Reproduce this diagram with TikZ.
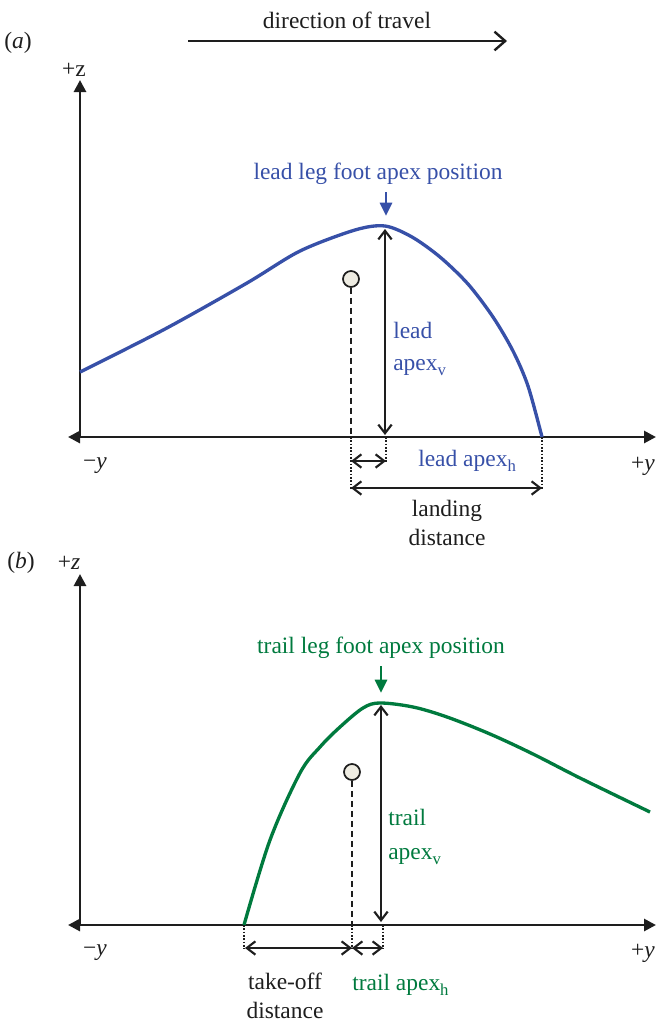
\documentclass[tikz,border=0pt]{standalone}
\usepackage{fontspec}
\setmainfont{Liberation Serif}
\usetikzlibrary{arrows.meta}
\definecolor{leadblue}{RGB}{55,80,168}
\definecolor{trailgreen}{RGB}{0,122,62}
\definecolor{bodyfill}{RGB}{238,236,226}
\definecolor{ink}{RGB}{30,30,30}
\newcommand{\subt}[1]{\raisebox{-0.45ex}{\fontsize{12.5}{12.5}\selectfont #1}}
\tikzset{
  axtip/.tip={Triangle[length=9pt,width=9pt]},
  barbtip/.tip={Straight Barb[length=6.5pt,width=10pt]}
}
\begin{document}
\begin{tikzpicture}[x=0.75pt,y=-0.75pt,
  lbl/.style={font=\fontsize{17.6}{21.5}\selectfont, inner sep=0pt, text=ink},
  axisline/.style={line width=2.1pt, draw=ink},
  dimarrow/.style={line width=1.6pt, draw=ink, barbtip-barbtip},
  travelarrow/.style={line width=1.8pt, draw=ink, -{Straight Barb[length=8pt,width=14pt]}},
  markarrow/.style={line width=2.2pt, -{Triangle[length=10pt,width=9pt]}},
  leadcurve/.style={line width=2.5pt, draw=leadblue},
  trailcurve/.style={line width=2.5pt, draw=trailgreen},
  body/.style={circle, draw=ink, fill=bodyfill, line width=1.3pt, minimum size=12pt, inner sep=0pt},
  plumb/.style={line width=1.2pt, draw=ink, dash pattern=on 4.5pt off 3pt},
  guide/.style={line width=1.2pt, draw=ink, dash pattern=on 1.2pt off 1.3pt},
  twoline/.style={lbl, align=left, anchor=west, font=\fontsize{17.6}{24}\selectfont}
]
\useasboundingbox (0,0) rectangle (656,1022);

% ---------- panel (a) ----------
\node[lbl] (pa) at (18,43) {(\textit{a})};
\node[lbl] (travel) at (347,20) {direction of travel};
\coordinate (travelL) at (188,41);
\coordinate (travelR) at (507,41);
\draw[travelarrow] (travelL) -- (travelR);

\coordinate (aO) at (80,437);
\coordinate (aXL) at (68,437);
\coordinate (aXR) at (656,437);
\coordinate (aZT) at (80,80);
\draw[axisline, axtip-axtip] (aXL) -- (aXR);
\draw[axisline, -axtip] (aO) -- (aZT);
\node[lbl] (aZ) at (74,70) {+z};
\node[lbl] (aYm) at (95,466) {−\textit{y}};
\node[lbl] (aYp) at (643,466) {+\textit{y}};

\draw[leadcurve] plot[smooth, tension=0.5] coordinates {(80,372) (165,329) (247,283) (300,251) (355,230) (385,226) (412,237) (440,257) (468,284) (493,317) (513,351) (528,386) (542,437)};

\coordinate (aApexTop) at (385,229);
\coordinate (aApexBase) at (385,435);
\coordinate (aMarkTop) at (386,192);
\coordinate (aMarkTip) at (386,216);
\draw[markarrow, draw=leadblue, fill=leadblue] (aMarkTop) -- (aMarkTip);
\node[lbl, text=leadblue] (aTitle) at (378,174) {lead leg foot apex position};
\draw[dimarrow] (aApexTop) -- (aApexBase);
\node[twoline, text=leadblue] (aApexV) at (393,349) {lead\\apex\subt{v}};

\node[body] (aBody) at (351,279) {};
\coordinate (aBodyFoot) at (351,437);
\coordinate (aBodyLow) at (351,490);
\draw[plumb] (aBody.south) -- (aBodyFoot);
\draw[guide] (aBodyFoot) -- (aBodyLow);
\coordinate (aApexFoot) at (386,437);
\coordinate (aApexLow) at (386,463);
\draw[guide] (aApexFoot) -- (aApexLow);
\coordinate (aLandFoot) at (542,437);
\coordinate (aLandLow) at (542,490);
\draw[guide] (aLandFoot) -- (aLandLow);

\coordinate (aHL) at (351,461);
\coordinate (aHR) at (386,461);
\draw[dimarrow] (aHL) -- (aHR);
\coordinate (aDL) at (351,488);
\coordinate (aDR) at (542,488);
\draw[dimarrow] (aDL) -- (aDR);
\node[lbl, text=leadblue, anchor=west] (aApexH) at (418,461) {lead apex\subt{h}};
\node[lbl, align=center] (aLand) at (447,523) {landing\\distance};

% ---------- panel (b) ----------
\node[lbl] (pb) at (21,563) {(\textit{b})};
\node[lbl] (bZ) at (69,563) {+\textit{z}};

\coordinate (bO) at (80,925);
\coordinate (bXL) at (68,925);
\coordinate (bXR) at (656,925);
\coordinate (bZT) at (80,574);
\draw[axisline, axtip-axtip] (bXL) -- (bXR);
\draw[axisline, -axtip] (bO) -- (bZT);
\node[lbl] (bYm) at (95,953) {−\textit{y}};
\node[lbl] (bYp) at (643,953) {+\textit{y}};

\draw[trailcurve] plot[smooth, tension=0.55] coordinates {(244,925) (270,840) (300,773) (320,747) (340,727) (363,708) (380,703) (413,707) (447,717) (490,734) (533,754) (580,778) (650,812)};

\coordinate (bApexTop) at (381,705);
\coordinate (bApexBase) at (381,922);
\coordinate (bMarkTop) at (381,666);
\coordinate (bMarkTip) at (381,693);
\draw[markarrow, draw=trailgreen, fill=trailgreen] (bMarkTop) -- (bMarkTip);
\node[lbl, text=trailgreen] (bTitle) at (381,648) {trail leg foot apex position};
\draw[dimarrow] (bApexTop) -- (bApexBase);
\node[twoline, text=trailgreen, font=\fontsize{17.6}{26}\selectfont] (bApexV) at (388,837) {trail\\apex\subt{v}};

\node[body] (bBody) at (352,772) {};
\coordinate (bBodyFoot) at (352,925);
\coordinate (bBodyLow) at (352,949);
\draw[plumb] (bBody.south) -- (bBodyFoot);
\draw[guide] (bBodyFoot) -- (bBodyLow);
\coordinate (bApexFoot) at (383,925);
\coordinate (bApexLow) at (383,949);
\draw[guide] (bApexFoot) -- (bApexLow);
\coordinate (bToFoot) at (244,925);
\coordinate (bToLow) at (244,949);
\draw[guide] (bToFoot) -- (bToLow);

\coordinate (bTL) at (245,948);
\coordinate (bTR) at (352,948);
\draw[dimarrow] (bTL) -- (bTR);
\coordinate (bHL) at (352,948);
\coordinate (bHR) at (383,948);
\draw[dimarrow] (bHL) -- (bHR);
\node[lbl, align=center] (bTake) at (285,996) {take-off\\distance};
\node[lbl, text=trailgreen, anchor=west] (bApexH) at (352,985) {trail apex\subt{h}};
\end{tikzpicture}
\end{document}
